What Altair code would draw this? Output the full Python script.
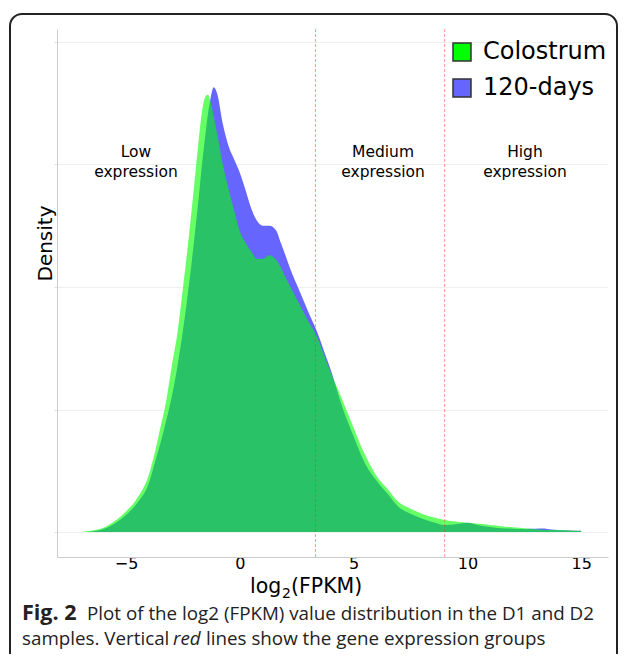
import altair as alt
import pandas as pd

# ---- data ----
X = [-7, -6.5, -6, -5.5, -5, -4.5, -4, -3.75, -3.5, -3.25, -3, -2.75, -2.5, -2.25, -2,
     -1.8, -1.65, -1.5, -1.4, -1.3, -1.15, -1.0, -0.75, -0.5, -0.25, 0, 0.25, 0.5, 0.75,
     1.0, 1.3, 1.6, 1.8, 2.0, 2.25, 2.5, 2.75, 3.0, 3.4, 3.75, 4.0, 4.5, 5.0, 5.5, 6.0,
     6.5, 7.0, 7.5, 8.0, 8.5, 9.0, 9.5, 10.0, 10.5, 11.0, 11.5, 12.0, 12.5, 13.0, 13.3,
     13.7, 14.0, 14.5, 15.0]
COLOSTRUM = [0.0, 0.0012, 0.0035, 0.009, 0.017, 0.028, 0.047, 0.064, 0.085, 0.106, 0.135,
             0.162, 0.200, 0.240, 0.285, 0.322, 0.345, 0.356, 0.357, 0.352, 0.339, 0.325,
             0.300, 0.280, 0.262, 0.245, 0.236, 0.229, 0.223, 0.223, 0.226, 0.222, 0.216,
             0.208, 0.199, 0.190, 0.181, 0.172, 0.159, 0.142, 0.130, 0.108, 0.085, 0.063,
             0.046, 0.035, 0.024, 0.019, 0.015, 0.012, 0.0098, 0.0085, 0.0075, 0.0068,
             0.0058, 0.0048, 0.0038, 0.0030, 0.0022, 0.0019, 0.0017, 0.0016, 0.0013, 0.0010]
DAYS120 = [0.0, 0.0005, 0.0025, 0.007, 0.014, 0.024, 0.040, 0.056, 0.072, 0.090, 0.110,
           0.135, 0.165, 0.200, 0.240, 0.275, 0.303, 0.327, 0.342, 0.353, 0.363, 0.358,
           0.333, 0.315, 0.304, 0.293, 0.279, 0.264, 0.254, 0.250, 0.250, 0.246, 0.236,
           0.226, 0.213, 0.202, 0.191, 0.180, 0.163, 0.145, 0.132, 0.102, 0.078, 0.056,
           0.042, 0.031, 0.020, 0.015, 0.011, 0.008, 0.0058, 0.0064, 0.0075, 0.0055,
           0.0040, 0.0031, 0.0027, 0.0025, 0.0026, 0.0028, 0.0020, 0.0016, 0.0013, 0.0010]
SERIES = ["Colostrum", "120-days"]
COLORS = ["#00ff00", "#6666ff"]
CUTS = [3.32, 9.0]
GROUP_LABELS = ["Low\nexpression", "Medium\nexpression", "High\nexpression"]
GROUP_X = [-4.57, 6.29, 12.53]
GROUP_Y = [0.310, 0.310, 0.310]
X_TICKS = [-5, 0, 5, 10, 15]
Y_GRID = [0, 0.1, 0.2, 0.3, 0.4]

rows = [{"x": x, "density": d, "series": "Colostrum"} for x, d in zip(X, COLOSTRUM)]
rows += [{"x": x, "density": d, "series": "120-days"} for x, d in zip(X, DAYS120)]
df = pd.DataFrame(rows)

FONT = "DejaVu Sans"
CAP_FONT = "Open Sans"

xscale = alt.Scale(domain=[-8.04, 16.18], nice=False, zero=False)
yscale = alt.Scale(domain=[-0.0204, 0.4106], nice=False, zero=False)

x_enc = alt.X("x:Q", scale=xscale,
              axis=alt.Axis(values=X_TICKS, labelFont=FONT, labelFontSize=16, labelColor="black",
                            ticks=False, domainColor="#cccccc", grid=False, labelPadding=-2,
                            labelFlush=False, title=None))
y_enc = alt.Y("density:Q", scale=yscale,
              axis=alt.Axis(values=Y_GRID, labels=False, ticks=True, tickSize=3, tickColor="#dddddd",
                            domainColor="#cccccc", grid=True, gridColor="#efefef",
                            title="Density", titleFont=FONT, titleFontSize=20,
                            titleFontWeight="normal", titleColor="black", titleX=-12, titleY=214,
                            titleAngle=270, titleAlign="center", titleBaseline="middle"))
color_enc = alt.Color("series:N", scale=alt.Scale(domain=SERIES, range=COLORS),
                      legend=alt.Legend(title=None, orient="none", legendX=393, legendY=11,
                                        symbolType="square", symbolSize=324,
                                        symbolStrokeColor="#333333", symbolStrokeWidth=1.5,
                                        symbolOpacity=1, labelFontSize=24, labelFont=FONT,
                                        labelColor="black", labelOffset=9, rowPadding=12,
                                        padding=0))

base = alt.Chart(df)
blue = base.transform_filter(alt.datum.series == "120-days").mark_area(
    opacity=1, interpolate="monotone").encode(x=x_enc, y=y_enc, y2=alt.datum(0), color=color_enc)
green = base.transform_filter(alt.datum.series == "Colostrum").mark_area(
    opacity=0.6, interpolate="monotone").encode(x=x_enc, y=y_enc, y2=alt.datum(0), color=color_enc)

rules = alt.Chart(pd.DataFrame({"x": CUTS})).mark_rule(
    color="#ff3030", strokeDash=[3, 2], strokeWidth=1, opacity=0.5).encode(x=x_enc)

groups = alt.Chart(pd.DataFrame({"x": GROUP_X, "density": GROUP_Y, "label": GROUP_LABELS})).mark_text(
    font=FONT, fontSize=15.5, lineBreak="\n", align="center", baseline="middle",
    lineHeight=20, color="black").encode(x=x_enc, y=y_enc, text="label:N")

one = pd.DataFrame({"k": [0]})

box = alt.Chart(one).mark_rect(cornerRadius=12, fillOpacity=0, stroke="#222222",
                               strokeWidth=2).encode(
    x=alt.value(-47), x2=alt.value(560), y=alt.value(-15), y2=alt.value(700))


def txt(s, x, y, size, font=FONT, weight="normal", style="normal", color="black"):
    return alt.Chart(one).mark_text(text=s, font=font, fontSize=size, fontWeight=weight,
                                    fontStyle=style, align="left", baseline="alphabetic",
                                    color=color).encode(x=alt.value(x), y=alt.value(y))


xtitle = [
    txt("log", 193, 563.5, 20.5),
    txt("2", 225, 569, 14),
    txt("(FPKM)", 234, 563.5, 20.5),
]
CAP_COLOR = "#222222"
caption = [
    txt("Fig. 2", -35, 590.5, 21.5, CAP_FONT, "bold", color=CAP_COLOR),
    txt("Plot of the log2 (FPKM) value distribution in the D1 and D2", 30, 590.5, 18.8, CAP_FONT,
        color=CAP_COLOR),
    txt("samples. Vertical", -35, 616, 18.8, CAP_FONT, color=CAP_COLOR),
    txt("red", 116, 616, 18.8, CAP_FONT, style="italic", color=CAP_COLOR),
    txt("lines show the gene expression groups", 149, 616, 18.8, CAP_FONT, color=CAP_COLOR),
]

chart = alt.layer(box, blue, green, rules, groups, *xtitle, *caption).properties(
    width=551, height=528,
    padding={"left": 49, "top": 21, "right": 11, "bottom": 97},
    autosize=alt.AutoSizeParams(type="none"),
).configure_view(strokeWidth=0)

chart.save("out.html", embed_options={"renderer": "svg", "actions": False})
